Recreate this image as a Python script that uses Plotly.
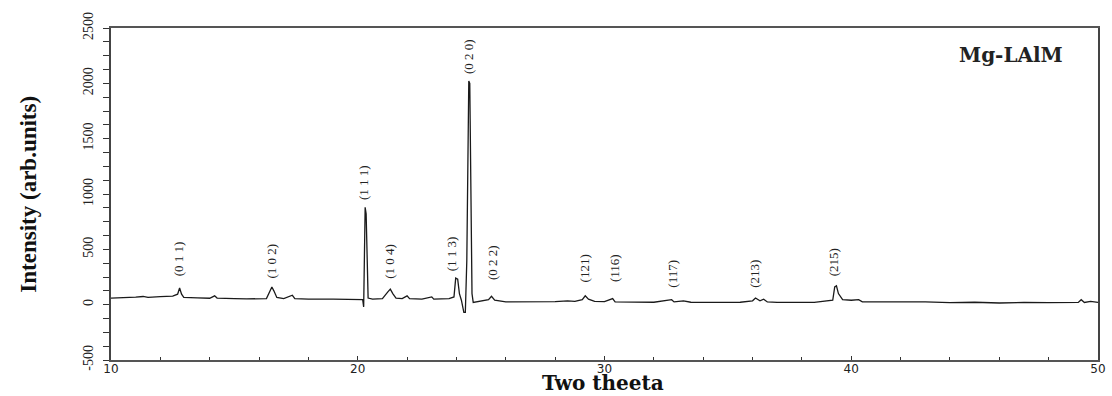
import plotly.graph_objects as go

# XRD profile
two_theta = [10.0, 10.5, 11.0, 11.3, 11.5, 12.0, 12.5, 12.7, 12.78, 12.86, 12.95, 13.5, 14.0, 14.2, 14.3,
             15.0, 15.5, 16.3, 16.45, 16.52, 16.6, 16.72, 17.0, 17.35, 17.45, 18.0, 19.0, 19.5, 20.2, 20.24,
             20.27, 20.3, 20.34, 20.38, 20.42, 20.6, 21.0, 21.22, 21.32, 21.42, 21.55, 21.8, 22.0, 22.1,
             22.6, 23.0, 23.08, 23.7, 23.9, 23.97, 24.05, 24.12, 24.2, 24.3, 24.36, 24.42, 24.46, 24.5,
             24.54, 24.58, 24.63, 24.68, 24.9, 25.3, 25.42, 25.55, 26.0, 27.0, 28.0, 28.5, 28.8, 29.1,
             29.22, 29.35, 29.6, 30.0, 30.33, 30.43, 31.0, 32.0, 32.72, 32.82, 33.2, 33.5, 34.5, 35.5,
             36.0, 36.12, 36.3, 36.45, 36.6, 37.0, 38.5, 39.25, 39.33, 39.4, 39.48, 39.65, 40.0, 40.3,
             40.45, 41.0, 42.0, 43.0, 44.0, 45.0, 46.0, 47.0, 48.0, 49.2, 49.32, 49.45, 49.7, 50.0]
intensity = [60, 62, 68, 74, 66, 72, 78, 95, 150, 95, 65, 62, 58, 80, 60,
             55, 52, 55, 120, 160, 125, 65, 55, 85, 55, 50, 50, 48, 45, -20,
             400, 880, 820, 300, 60, 50, 55, 115, 140, 100, 60, 55, 80, 55,
             50, 70, 50, 55, 70, 240, 230, 100, 40, -70, -70, 400, 1650, 2020,
             2000, 900, 100, 20, 30, 45, 75, 40, 25, 25, 28, 35, 30, 45,
             80, 50, 30, 28, 55, 25, 25, 22, 45, 25, 35, 22, 20, 22,
             35, 60, 35, 50, 25, 20, 20, 40, 160, 170, 100, 45, 40, 45,
             25, 25, 20, 25, 18, 22, 15, 20, 18, 20, 45, 20, 30, 20]

# peak labels
peak_labels = ["(0 1 1)", "(1 0 2)", "(1 1 1)", "(1 0 4)", "(1 1 3)", "(0 2 0)", "(0 2 2)",
               "(121)", "(116)", "(117)", "(213)", "(215)"]
label_x = [12.77, 16.51, 20.21, 21.3, 23.83, 24.51, 25.44, 29.18, 30.38, 32.72, 36.05, 39.27]
label_y = [413, 395, 1108, 395, 458, 2238, 385, 330, 330, 277, 277, 385]

x_ticks = [10, 20, 30, 40, 50]
y_ticks = [-500, 0, 500, 1000, 1500, 2000, 2500]
y_tick_text = ["-500", "0", "500", "1000", "1500", "2000", "2500"]

fig = go.Figure()
fig.add_trace(go.Scatter(x=two_theta, y=intensity, mode="lines",
                         line=dict(color="#1a1a1a", width=1.3), showlegend=False,
                         hoverinfo="skip"))

for t, lx, ly in zip(peak_labels, label_x, label_y):
    fig.add_annotation(x=lx, y=ly, xref="x", yref="y", text=t, textangle=-90,
                       showarrow=False, xanchor="center", yanchor="middle",
                       font=dict(family="Liberation Serif", size=13, color="#222"))

fig.add_annotation(x=(27 - 111) / 995, y=0.5, xref="paper", yref="paper",
                   text="<b>Intensity (arb.units)</b>", textangle=-90, showarrow=False,
                   xanchor="center", yanchor="middle",
                   font=dict(family="Liberation Serif", size=23, color="#111"))
fig.add_annotation(x=(607 - 111) / 995, y=(360 - 396) / 332, xref="paper", yref="paper",
                   text="<b>Two theeta</b>", showarrow=False,
                   xanchor="center", yanchor="bottom", borderpad=0,
                   font=dict(family="DejaVu Serif", size=20, color="#111"))
fig.add_annotation(x=(1018 - 111) / 995, y=(360 - 55) / 332, xref="paper", yref="paper",
                   text="<b>Mg-LAlM</b>", showarrow=False,
                   xanchor="center", yanchor="middle",
                   font=dict(family="DejaVu Serif", size=20, color="#222"))

fig.update_layout(
    width=1112, height=396,
    margin=dict(l=111, r=6, t=28, b=36),
    paper_bgcolor="white", plot_bgcolor="white",
    xaxis=dict(range=[10, 50], tickvals=x_ticks, ticks="inside", ticklen=4,
               tickcolor="#333", showline=True, linecolor="#555", linewidth=1.5,
               mirror=True, showgrid=False, zeroline=False, ticklabelstandoff=-3,
               minor=dict(dtick=2, ticks="inside", ticklen=3, tickcolor="#333"),
               tickfont=dict(family="DejaVu Sans", size=12, color="#222")),
    yaxis=dict(range=[-500, 2500], tickvals=y_ticks, ticktext=y_tick_text,
               ticks="outside", ticklen=6, ticklabelstandoff=5,
               tickcolor="#333", showline=True, linecolor="#444", linewidth=1.5,
               mirror=True, showgrid=False, zeroline=False, tickangle=-90,
               minor=dict(dtick=125, ticks="outside", ticklen=6, tickcolor="#333"),
               tickfont=dict(family="Liberation Serif", size=14, color="#222")),
)

fig.write_html("out.html")
